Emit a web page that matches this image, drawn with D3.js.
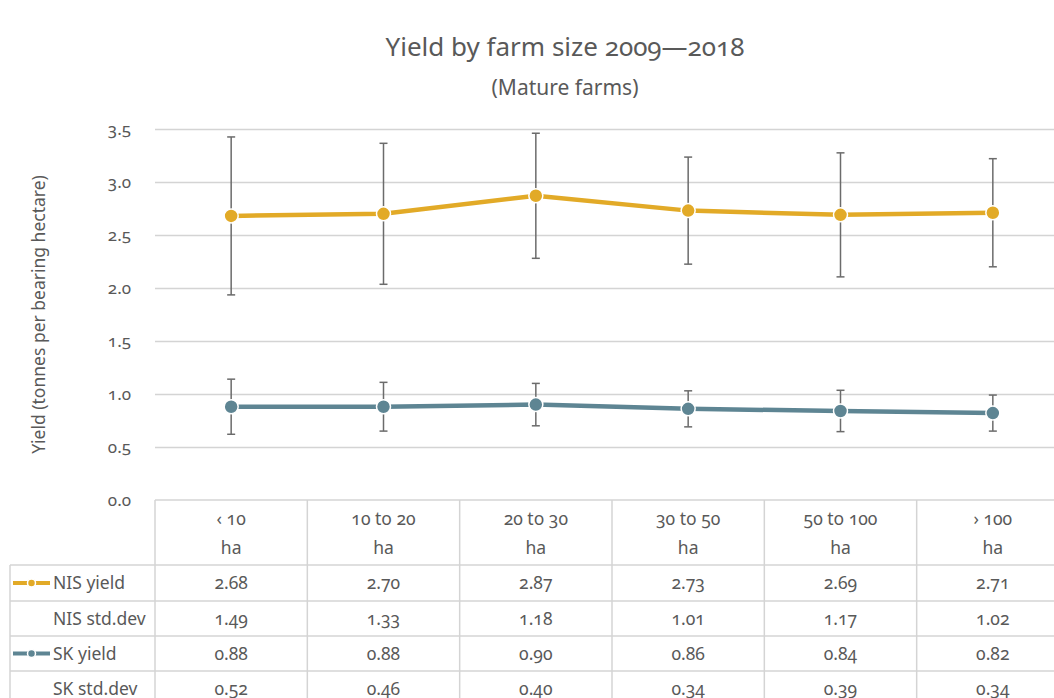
<!DOCTYPE html>
<html>
<head>
<meta charset="utf-8">
<script src="https://cdn.jsdelivr.net/npm/d3@7"></script>
<style>
  body { margin: 0; background: #fff; }
  svg { display: block; font-family: 'Noto Sans', 'Open Sans', sans-serif; font-variant-numeric: oldstyle-nums; }
  text { fill: #595959; }
</style>
</head>
<body>
<svg id="chart" width="1054" height="698"></svg>
<script>
// data
const categories = ['‹ 10', '10 to 20', '20 to 30', '30 to 50', '50 to 100', '› 100'];
const nisYield = [2.68, 2.70, 2.87, 2.73, 2.69, 2.71];
const nisStd = [1.49, 1.33, 1.18, 1.01, 1.17, 1.02];
const skYield = [0.88, 0.88, 0.90, 0.86, 0.84, 0.82];
const skStd = [0.52, 0.46, 0.40, 0.34, 0.39, 0.34];
const yTicks = [0, 0.5, 1.0, 1.5, 2.0, 2.5, 3.0, 3.5];

const gold = '#e2aa27';
const teal = '#5e8593';
const grid = '#d4d4d4';

const margin = { top: 129, left: 155, bottom: 500, right: 1069 };
const svg = d3.select('#chart');

const x = d3.scaleBand().domain(categories).range([margin.left, margin.right]);
const y = d3.scaleLinear().domain([0, 3.5]).range([margin.bottom, margin.top]);

// title
svg.append('text').attr('x', 565).attr('y', 56).attr('text-anchor', 'middle')
  .style('font-size', '26px').text('Yield by farm size 2009—2018');
svg.append('text').attr('x', 565).attr('y', 95).attr('text-anchor', 'middle')
  .style('font-size', '21px').text('(Mature farms)');

// gridlines + y axis
const yAxis = d3.axisLeft(y).tickValues(yTicks).tickFormat(d3.format('.1f'))
  .tickSize(-(margin.right - margin.left)).tickPadding(24);
const gy = svg.append('g').attr('transform', `translate(${margin.left},0)`).call(yAxis);
gy.attr('font-size', null).attr('font-family', null);
gy.select('.domain').remove();
gy.selectAll('line').attr('stroke', grid).attr('stroke-width', 1.5);
gy.selectAll('.tick').filter(d => d === 0).select('line').remove();
gy.selectAll('text').style('font-size', '17px').attr('fill', '#595959');

svg.append('text')
  .attr('transform', `translate(45,${(margin.top + margin.bottom) / 2}) rotate(-90)`)
  .attr('text-anchor', 'middle').style('font-size', '17.5px')
  .text('Yield (tonnes per bearing hectare)');

// data table
const rowY = [500, 565, 601, 636, 671, 706];
const tableLeft = 10;
const fs = '17.5px';
const tg = svg.append('g');
// horizontal lines
tg.append('line').attr('x1', margin.left).attr('x2', margin.right).attr('y1', rowY[0]).attr('y2', rowY[0]);
rowY.slice(1).forEach(ry => {
  tg.append('line').attr('x1', tableLeft).attr('x2', margin.right).attr('y1', ry).attr('y2', ry);
});
// vertical lines
tg.append('line').attr('x1', tableLeft).attr('x2', tableLeft).attr('y1', rowY[1]).attr('y2', 698);
categories.forEach(c => {
  tg.append('line').attr('x1', x(c)).attr('x2', x(c)).attr('y1', rowY[0]).attr('y2', 698);
});
tg.append('line').attr('x1', margin.right).attr('x2', margin.right).attr('y1', rowY[0]).attr('y2', 698);
tg.selectAll('line').attr('stroke', grid).attr('stroke-width', 1.5);

// header
categories.forEach(c => {
  const cx = x(c) + x.bandwidth() / 2;
  tg.append('text').attr('x', cx).attr('y', 525).attr('text-anchor', 'middle')
    .style('font-size', fs).text(c);
  tg.append('text').attr('x', cx).attr('y', 554).attr('text-anchor', 'middle')
    .style('font-size', fs).text('ha');
});

const rows = [
  { label: 'NIS yield', values: nisYield, color: gold },
  { label: 'NIS std.dev', values: nisStd, color: null },
  { label: 'SK yield', values: skYield, color: teal },
  { label: 'SK std.dev', values: skStd, color: null }
];
rows.forEach((r, i) => {
  const midY = (rowY[i + 1] + rowY[i + 2]) / 2;
  tg.append('text').attr('x', 53).attr('y', midY + 6).style('font-size', fs).text(r.label);
  if (r.color) {
    tg.append('line').attr('x1', 13).attr('x2', 50).attr('y1', midY).attr('y2', midY)
      .attr('stroke', r.color).attr('stroke-width', 4);
    tg.append('circle').attr('cx', 31.5).attr('cy', midY).attr('r', 4)
      .attr('fill', r.color).attr('stroke', '#fff').attr('stroke-width', 1.5);
  }
  r.values.forEach((v, j) => {
    tg.append('text').attr('x', x(categories[j]) + x.bandwidth() / 2).attr('y', midY + 6)
      .attr('text-anchor', 'middle').style('font-size', fs).text(v.toFixed(2));
  });
});

// series with error bars (+/- half std.dev)
const series = [
  { values: nisYield, std: nisStd, color: gold },
  { values: skYield, std: skStd, color: teal }
];
const cxOf = i => x(categories[i]) + x.bandwidth() / 2;
const line = d3.line().x((d, i) => cxOf(i)).y(d => y(d));

series.forEach(s => {
  const eb = svg.append('g');
  s.values.forEach((v, i) => {
    const lo = y(v - s.std[i] / 2), hi = y(v + s.std[i] / 2), cx = cxOf(i);
    eb.append('line').attr('x1', cx).attr('x2', cx).attr('y1', lo).attr('y2', hi);
    eb.append('line').attr('x1', cx - 4).attr('x2', cx + 4).attr('y1', lo).attr('y2', lo);
    eb.append('line').attr('x1', cx - 4).attr('x2', cx + 4).attr('y1', hi).attr('y2', hi);
  });
  eb.selectAll('line').attr('stroke', '#6b6b6b').attr('stroke-width', 1.5);
});

series.forEach(s => {
  svg.append('path').datum(s.values).attr('d', line).attr('fill', 'none')
    .attr('stroke', s.color).attr('stroke-width', 4.5).attr('stroke-linejoin', 'round');
  svg.append('g').selectAll('circle').data(s.values).join('circle')
    .attr('cx', (d, i) => cxOf(i)).attr('cy', d => y(d)).attr('r', 7)
    .attr('fill', s.color).attr('stroke', '#fff').attr('stroke-width', 1.5);
});
</script>
</body>
</html>
